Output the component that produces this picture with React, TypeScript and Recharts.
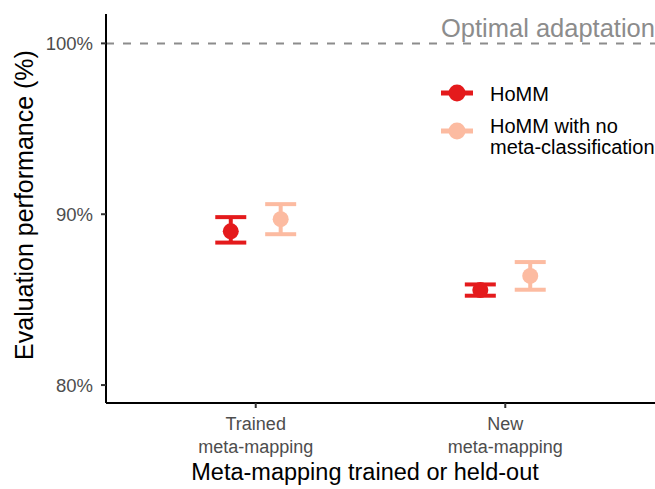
import { ScatterChart, Scatter, ErrorBar, XAxis, YAxis, ReferenceLine } from "recharts";

const FONT = '"Liberation Sans", Arial, Helvetica, sans-serif';

// x categories, one entry per line of the tick label
const CATEGORIES = [
    ["Trained", "meta-mapping"],
    ["New", "meta-mapping"],
];

const HOMM_MEAN = [89.0, 85.56];
const HOMM_LOWER = [88.34, 85.23];
const HOMM_UPPER = [89.83, 85.89];

const NO_META_MEAN = [89.71, 86.39];
const NO_META_LOWER = [88.83, 85.58];
const NO_META_UPPER = [90.59, 87.2];

const Y_TICKS = [80, 90, 100];
const OPTIMAL = 100;

const SERIES = [
    { key: "homm", label: ["HoMM"], color: "#E41A1C", mean: HOMM_MEAN, lower: HOMM_LOWER, upper: HOMM_UPPER, dodge: -0.1 },
    {
        key: "nometa",
        label: ["HoMM with no", "meta-classification"],
        color: "#FCBBA1",
        mean: NO_META_MEAN,
        lower: NO_META_LOWER,
        upper: NO_META_UPPER,
        dodge: 0.1,
    },
];

const buildRows = (s: (typeof SERIES)[number]) =>
    CATEGORIES.map((_, i) => ({
        x: i + 1 + s.dodge,
        y: s.mean[i],
        err: [s.mean[i] - s.lower[i], s.upper[i] - s.mean[i]],
    }));

const CategoryTick = ({ x, y, payload }: any) => {
    const lines = CATEGORIES[Math.round(payload.value) - 1] ?? [];
    return (
        <text x={x} y={y} textAnchor="middle" fill="#4D4D4D" fontSize={18} fontFamily={FONT}>
            {lines.map((line, i) => (
                <tspan key={line + i} x={x} dy={i === 0 ? 20 : 23}>
                    {line}
                </tspan>
            ))}
        </text>
    );
};

const LEGEND_ROWS = [
    { key: 93, textY: [100.7] },
    { key: 131, textY: [132.5, 153.5] },
];

const App = () => {
    return (
        <div style={{ position: "absolute", left: 0, top: 0, width: 655, height: 489, background: "#fff" }}>
            <ScatterChart width={655} height={489} margin={{ top: 14, right: 0, bottom: 0, left: 0 }}>
                <XAxis
                    type="number"
                    dataKey="x"
                    domain={[0.4, 2.6]}
                    ticks={[1, 2]}
                    allowDataOverflow
                    height={86}
                    tickSize={5}
                    tickMargin={2}
                    axisLine={{ stroke: "#000", strokeWidth: 2 }}
                    tickLine={{ stroke: "#333", strokeWidth: 2 }}
                    tick={<CategoryTick />}
                />
                <YAxis
                    type="number"
                    dataKey="y"
                    domain={[78.95, 101.72]}
                    ticks={Y_TICKS}
                    allowDataOverflow
                    width={106}
                    tickSize={5}
                    tickMargin={8}
                    axisLine={{ stroke: "#000", strokeWidth: 2 }}
                    tickLine={{ stroke: "#333", strokeWidth: 2 }}
                    tick={{ fill: "#4D4D4D", fontSize: 18.5, fontFamily: FONT }}
                    tickFormatter={(v: number) => `${v}%`}
                />
                <ReferenceLine
                    y={OPTIMAL}
                    stroke="#8C8C8C"
                    strokeWidth={2}
                    strokeDasharray="8 9"
                    label={{
                        content: ({ viewBox }: any) => (
                            <text
                                x={viewBox.x + viewBox.width}
                                y={viewBox.y - 6.5}
                                textAnchor="end"
                                fill="#8C8C8C"
                                fontSize={25.5}
                                fontFamily={FONT}
                            >
                                Optimal adaptation
                            </text>
                        ),
                    }}
                />
                {SERIES.map((s) => (
                    <Scatter
                        key={s.key}
                        name={s.label.join(" ")}
                        data={buildRows(s)}
                        fill={s.color}
                        isAnimationActive={false}
                        shape={(p: any) => <circle cx={p.cx} cy={p.cy} r={8} fill={s.color} />}
                    >
                        <ErrorBar dataKey="err" direction="y" width={15.5} strokeWidth={4} stroke={s.color} />
                    </Scatter>
                ))}
            </ScatterChart>
            <svg
                width={655}
                height={489}
                style={{ position: "absolute", left: 0, top: 0, pointerEvents: "none" }}
                fontFamily={FONT}
            >
                {/* legend */}
                {SERIES.map((s, i) => (
                    <g key={s.key}>
                        <line x1={441} x2={473} y1={LEGEND_ROWS[i].key} y2={LEGEND_ROWS[i].key} stroke={s.color} strokeWidth={5} />
                        <circle cx={457} cy={LEGEND_ROWS[i].key} r={8.5} fill={s.color} />
                        {s.label.map((line, j) => (
                            <text key={line} x={490} y={LEGEND_ROWS[i].textY[j]} fontSize={20} fill="#000">
                                {line}
                            </text>
                        ))}
                    </g>
                ))}
                {/* axis titles */}
                <text x={365} y={480} textAnchor="middle" fontSize={23.5} fill="#000">
                    Meta-mapping trained or held-out
                </text>
                <text x={33} y={205} textAnchor="middle" fontSize={25} fill="#000" transform="rotate(-90 33 205)">
                    Evaluation performance (%)
                </text>
            </svg>
        </div>
    );
};

export default App;
